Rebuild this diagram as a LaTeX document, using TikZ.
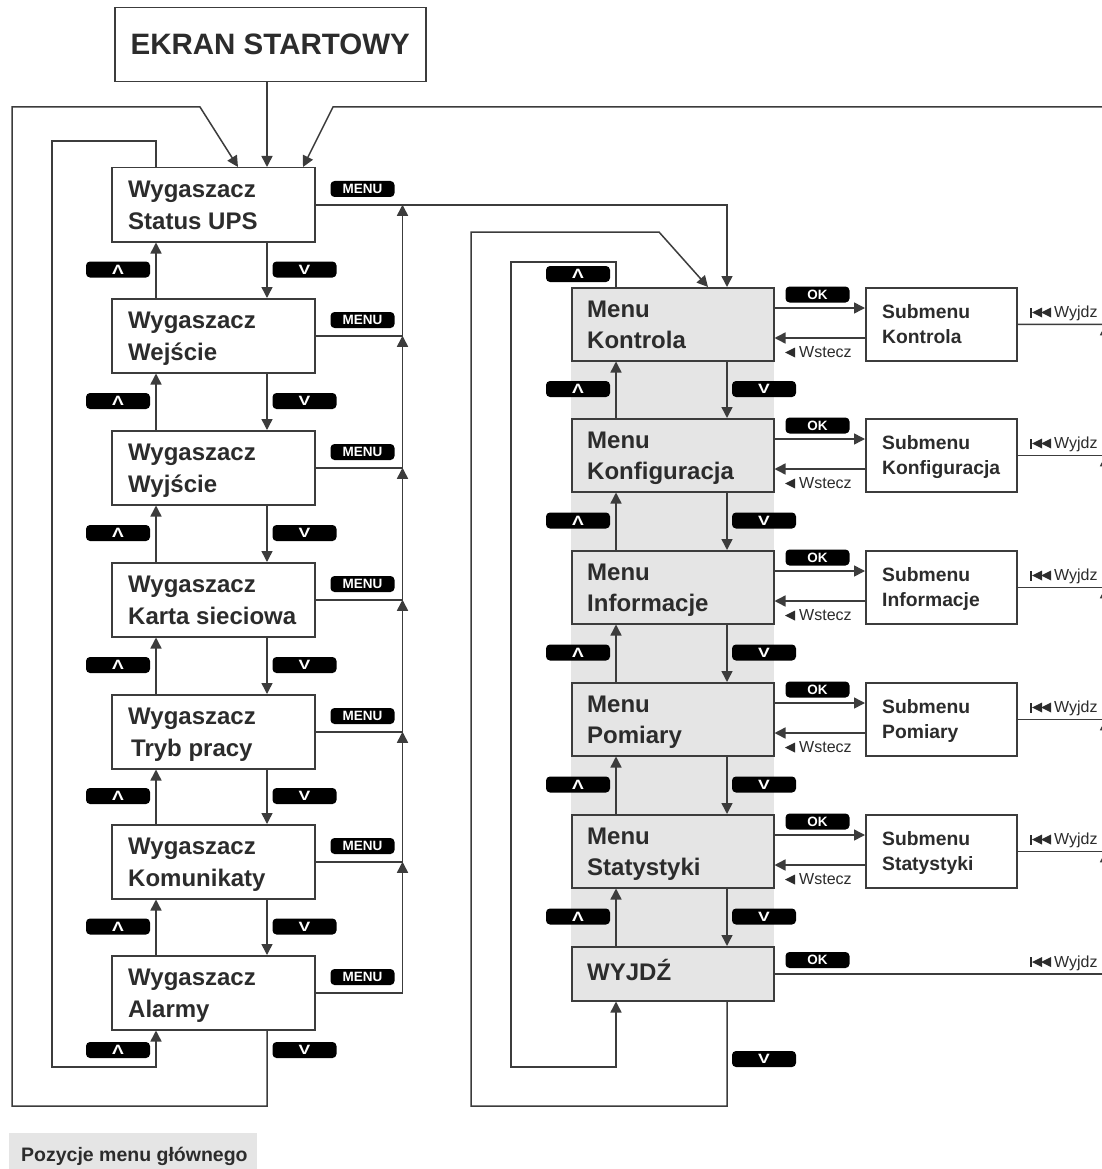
\documentclass[tikz,border=0pt]{standalone}
\usepackage{fontspec}
\usepackage{graphicx}
\setmainfont{Liberation Sans}
\usetikzlibrary{arrows.meta,calc}
\definecolor{ln}{HTML}{3C3C3C}
\definecolor{tx}{HTML}{2C2C2C}
\definecolor{gf}{HTML}{E5E5E5}
\newcommand\upglyph{\scalebox{1.3}[1]{Λ}}
\newcommand\dnglyph{\scalebox{1.3}[1]{V}}
\tikzset{
  conn/.style={draw=ln, line width=1.5pt},
  arr/.style={conn, -{Triangle[length=11pt,width=11pt]}},
  wbox/.style={draw=ln, line width=1.5pt, fill=white, rectangle, inner sep=0pt, anchor=north west, minimum width=203pt, minimum height=74pt},
  gbox/.style={wbox, fill=gf, minimum width=202pt, minimum height=73pt},
  sbox/.style={wbox, minimum width=151pt, minimum height=73pt},
  btxt/.style={anchor=base west, inner sep=0pt, text=tx, font=\bfseries\fontsize{24}{28}\selectfont},
  stxt/.style={anchor=base west, inner sep=0pt, text=tx, font=\bfseries\fontsize{19.3}{23}\selectfont},
  rtxt/.style={anchor=base west, inner sep=0pt, text=tx, font=\fontsize{16}{19}\selectfont},
  btn/.style={fill=black, rounded corners=4pt, minimum width=64pt, minimum height=16pt, inner sep=0pt, text=white, font=\bfseries\fontsize{13.5}{14}\selectfont},
}
\begin{document}
\begin{tikzpicture}[x=1pt,y=-1pt]
\useasboundingbox (0,0) rectangle (1102,1169);
\clip (0,0) rectangle (1102,1169);
\fill[white] (0,0) rectangle (1102,1169);

% start screen
\node[wbox, minimum width=311pt, minimum height=74pt, text=tx, font=\bfseries\fontsize{29.5}{32}\selectfont] (E) at (114,7) {EKRAN STARTOWY};

% left column
\foreach \i/\ty/\b/\dx in {1/167/Status UPS/0, 2/298/Wejście/0, 3/430/Wyjście/0, 4/562/Karta sieciowa/0, 5/694/Tryb pracy/3, 6/824/Komunikaty/0, 7/955/Alarmy/0}{
  \node[wbox] (L\i) at (111,\ty) {};
  \node[btxt] (L\i-a) at (128,\ty+30) {Wygaszacz};
  \node[btxt] (L\i-b) at (128+\dx,\ty+62) {\b};
  \node[btn] (M\i) at (362.5,\ty+22) {MENU};
}
\foreach \i/\j/\m in {1/2/269.5, 2/3/401, 3/4/533, 4/5/665, 5/6/796, 6/7/926.5}{
  \draw[arr] ($(L\i.south west)+(156,0)$) -- ($(L\j.north west)+(156,0)$);
  \draw[arr] ($(L\j.north west)+(45,0)$) -- ($(L\i.south west)+(45,0)$);
  \node[btn] (Lu\i) at (118,\m) {\upglyph};
  \node[btn] (Ld\i) at (304.5,\m) {\dnglyph};
}
\node[btn] (Lu7) at (118,1050) {\upglyph};
\node[btn] (Ld7) at (304.5,1050) {\dnglyph};

% MENU collector
\foreach \i/\k in {2/1, 3/2, 4/3, 5/4, 6/5, 7/6}{
  \draw[arr] (L\i.east) -| ($(L\k.east)+(87,0)$);
}

% start arrow
\coordinate (X) at ($(L1.north west)+(156,0)$);
\draw[arr] (E.south -| X) -- (X);

% left loops
\draw[arr] ($(L7.south west)+(156,0)$) -- (267,1106) -- (12,1106) -- (12,107) -- (200,107) -- ($(L1.north west)+(127,0)$);
\draw[arr] ($(L1.north west)+(45,0)$) -- (156,141) -- (52,141) -- (52,1067) -- (156,1067) -- ($(L7.south west)+(45,0)$);

% right column
\fill[gf] (571,287) rectangle (774,1000);
\foreach \i/\ty/\b in {1/287/Kontrola, 2/418/Konfiguracja, 3/550/Informacje, 4/682/Pomiary, 5/814/Statystyki}{
  \node[gbox] (R\i) at (571,\ty) {};
  \node[btxt] (R\i-a) at (587,\ty+30) {Menu};
  \node[btxt] (R\i-b) at (587,\ty+61) {\b};
  \node[sbox] (S\i) at (865,\ty) {};
  \node[stxt] (S\i-a) at (882,\ty+31) {Submenu};
  \node[stxt] (S\i-b) at (882,\ty+56) {\b};
  \draw[arr] ($(R\i.north east)+(0,21)$) -- ($(S\i.north west)+(0,21)$);
  \draw[arr] ($(S\i.north west)+(0,51)$) -- ($(R\i.north east)+(0,51)$);
  \node[btn] (OK\i) at (817.5,\ty+7.5) {OK};
  \fill[tx] (785,\ty+65.5) -- (795,\ty+60.5) -- (795,\ty+70.5) -- cycle;
  \node[rtxt] (W\i) at (799,\ty+70) {Wstecz};
}
\node[gbox, minimum height=54pt] (R6) at (571,946) {};
\node[btxt] (R6-a) at (587,980) {WYJDŹ};
\node[btn] (OK6) at (817.5,960) {OK};

\foreach \i/\j/\m in {1/2/389, 2/3/520.5, 3/4/652.5, 4/5/784.5, 5/6/916.5}{
  \draw[arr] ($(R\i.south west)+(156,0)$) -- ($(R\j.north west)+(156,0)$);
  \draw[arr] ($(R\j.north west)+(45,0)$) -- ($(R\i.south west)+(45,0)$);
  \node[btn] (Ru\i) at (578,\m) {\upglyph};
  \node[btn] (Rd\i) at (764,\m) {\dnglyph};
}
\node[btn] (Ru0) at (578,274) {\upglyph};
\node[btn] (Rd6) at (764,1059) {\dnglyph};

% MENU to Menu Kontrola
\draw[arr] (L1.east) -| ($(R1.north west)+(156,0)$);

% right loops
\draw[arr] ($(R1.north west)+(45,0)$) -- (616,262) -- (511,262) -- (511,1067) -- (616,1067) -- ($(R6.south west)+(45,0)$);
\draw[arr] ($(R6.south west)+(156,0)$) -- (727,1106) -- (471,1106) -- (471,232) -- (659,232) -- ($(R1.north west)+(137,0)$);

% Wyjdz lines
\draw[arr] (S1.east) -| (1104,107) -- (333,107) -- ($(L1.north west)+(192,0)$);
\foreach \i/\k in {2/1, 3/2, 4/3, 5/4}{
  \draw[arr] (S\i.east) -| ($(S\k.east)+(88,0)$);
}
\draw[arr] (R6.east) -| ($(S5.east)+(88,0)$);
\foreach \n/\m in {1/323.5, 2/454.5, 3/586.5, 4/718.5, 5/850.5, 6/973}{
  \fill[tx] (1030,\m-16) rectangle (1032,\m-6);
  \fill[tx] (1032,\m-11) -- (1042,\m-16) -- (1042,\m-6) -- cycle;
  \fill[tx] (1041,\m-11) -- (1051,\m-16) -- (1051,\m-6) -- cycle;
  \node[rtxt] (Y\n) at (1054,\m-6) {Wyjdz};
}

% legend
\fill[gf] (9,1133) rectangle (257,1175);
\node[anchor=base west, inner sep=0pt, text=tx, font=\bfseries\fontsize{19.5}{22}\selectfont] (leg) at (21,1161) {Pozycje menu głównego};
\end{tikzpicture}
\end{document}
